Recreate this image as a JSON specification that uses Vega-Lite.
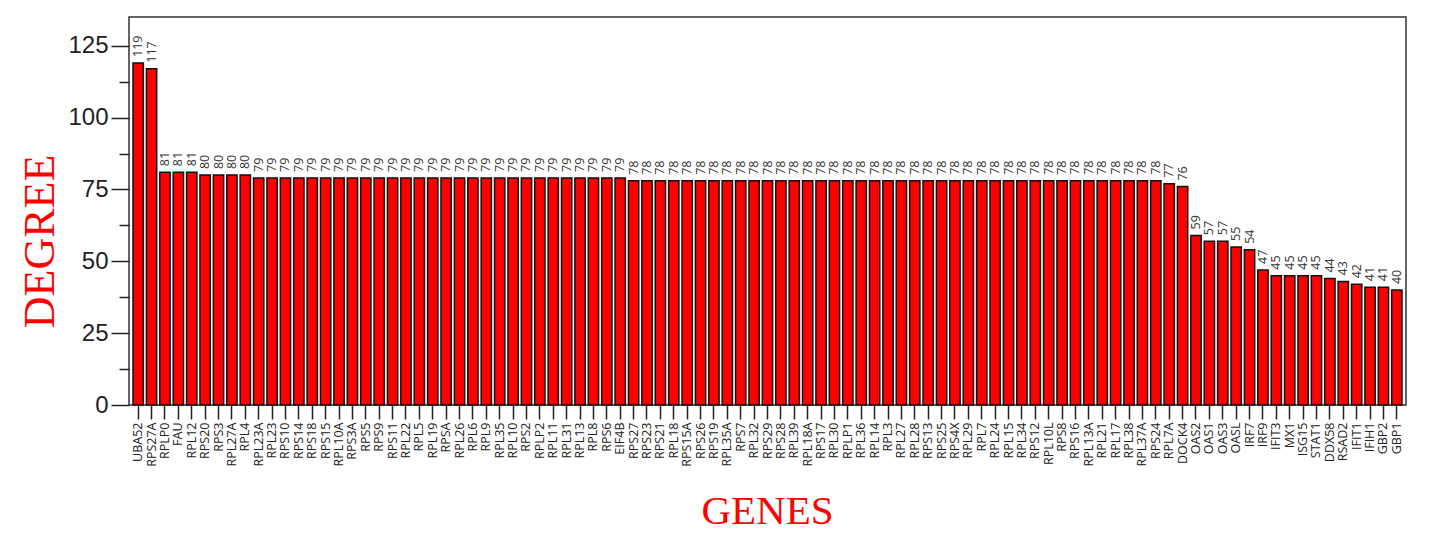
{
  "$schema": "https://vega.github.io/schema/vega-lite/v6.json",
  "autosize": {"type": "none"},
  "width": 1277,
  "height": 388,
  "padding": {"left": 129, "top": 17, "right": 27, "bottom": 151},
  "background": "white",
  "config": {
    "view": {"stroke": "#333333", "strokeWidth": 1.5},
    "axis": {"domain": false, "grid": false, "tickColor": "#222222", "tickWidth": 1.5, "labelColor": "#222222"}
  },
  "data": {
    "values": [
      {"gene": "UBA52", "degree": 119},
      {"gene": "RPS27A", "degree": 117},
      {"gene": "RPLP0", "degree": 81},
      {"gene": "FAU", "degree": 81},
      {"gene": "RPL12", "degree": 81},
      {"gene": "RPS20", "degree": 80},
      {"gene": "RPS3", "degree": 80},
      {"gene": "RPL27A", "degree": 80},
      {"gene": "RPL4", "degree": 80},
      {"gene": "RPL23A", "degree": 79},
      {"gene": "RPL23", "degree": 79},
      {"gene": "RPS10", "degree": 79},
      {"gene": "RPS14", "degree": 79},
      {"gene": "RPS18", "degree": 79},
      {"gene": "RPS15", "degree": 79},
      {"gene": "RPL10A", "degree": 79},
      {"gene": "RPS3A", "degree": 79},
      {"gene": "RPS5", "degree": 79},
      {"gene": "RPS9", "degree": 79},
      {"gene": "RPS11", "degree": 79},
      {"gene": "RPL22", "degree": 79},
      {"gene": "RPL5", "degree": 79},
      {"gene": "RPL19", "degree": 79},
      {"gene": "RPSA", "degree": 79},
      {"gene": "RPL26", "degree": 79},
      {"gene": "RPL6", "degree": 79},
      {"gene": "RPL9", "degree": 79},
      {"gene": "RPL35", "degree": 79},
      {"gene": "RPL10", "degree": 79},
      {"gene": "RPS2", "degree": 79},
      {"gene": "RPLP2", "degree": 79},
      {"gene": "RPL11", "degree": 79},
      {"gene": "RPL31", "degree": 79},
      {"gene": "RPL13", "degree": 79},
      {"gene": "RPL8", "degree": 79},
      {"gene": "RPS6", "degree": 79},
      {"gene": "EIF4B", "degree": 79},
      {"gene": "RPS27", "degree": 78},
      {"gene": "RPS23", "degree": 78},
      {"gene": "RPS21", "degree": 78},
      {"gene": "RPL18", "degree": 78},
      {"gene": "RPS15A", "degree": 78},
      {"gene": "RPS26", "degree": 78},
      {"gene": "RPS19", "degree": 78},
      {"gene": "RPL35A", "degree": 78},
      {"gene": "RPS7", "degree": 78},
      {"gene": "RPL32", "degree": 78},
      {"gene": "RPS29", "degree": 78},
      {"gene": "RPS28", "degree": 78},
      {"gene": "RPL39", "degree": 78},
      {"gene": "RPL18A", "degree": 78},
      {"gene": "RPS17", "degree": 78},
      {"gene": "RPL30", "degree": 78},
      {"gene": "RPLP1", "degree": 78},
      {"gene": "RPL36", "degree": 78},
      {"gene": "RPL14", "degree": 78},
      {"gene": "RPL3", "degree": 78},
      {"gene": "RPL27", "degree": 78},
      {"gene": "RPL28", "degree": 78},
      {"gene": "RPS13", "degree": 78},
      {"gene": "RPS25", "degree": 78},
      {"gene": "RPS4X", "degree": 78},
      {"gene": "RPL29", "degree": 78},
      {"gene": "RPL7", "degree": 78},
      {"gene": "RPL24", "degree": 78},
      {"gene": "RPL15", "degree": 78},
      {"gene": "RPL34", "degree": 78},
      {"gene": "RPS12", "degree": 78},
      {"gene": "RPL10L", "degree": 78},
      {"gene": "RPS8", "degree": 78},
      {"gene": "RPS16", "degree": 78},
      {"gene": "RPL13A", "degree": 78},
      {"gene": "RPL21", "degree": 78},
      {"gene": "RPL17", "degree": 78},
      {"gene": "RPL38", "degree": 78},
      {"gene": "RPL37A", "degree": 78},
      {"gene": "RPS24", "degree": 78},
      {"gene": "RPL7A", "degree": 77},
      {"gene": "DOCK4", "degree": 76},
      {"gene": "OAS2", "degree": 59},
      {"gene": "OAS1", "degree": 57},
      {"gene": "OAS3", "degree": 57},
      {"gene": "OASL", "degree": 55},
      {"gene": "IRF7", "degree": 54},
      {"gene": "IRF9", "degree": 47},
      {"gene": "IFIT3", "degree": 45},
      {"gene": "MX1", "degree": 45},
      {"gene": "ISG15", "degree": 45},
      {"gene": "STAT1", "degree": 45},
      {"gene": "DDX58", "degree": 44},
      {"gene": "RSAD2", "degree": 43},
      {"gene": "IFIT1", "degree": 42},
      {"gene": "IFIH1", "degree": 41},
      {"gene": "GBP2", "degree": 41},
      {"gene": "GBP1", "degree": 40}
    ]
  },
  "encoding": {
    "x": {
      "field": "gene",
      "type": "nominal",
      "sort": null,
      "scale": {"paddingInner": 0.23, "paddingOuter": 0.3},
      "axis": {
        "title": "GENES",
        "labelAngle": -90,
        "labelAlign": "right",
        "labelBaseline": "middle",
        "labelFont": "Open Sans",
        "labelFontSize": 12.5,
        "labelPadding": 3,
        "tickSize": 14,
        "titleFont": "Liberation Serif",
        "titleFontSize": 41,
        "titleFontWeight": "normal",
        "titleColor": "#ff0000",
        "titleBaseline": "alphabetic",
        "titleAlign": "center",
        "titleX": 638,
        "titleY": 118
      }
    },
    "y": {
      "field": "degree",
      "type": "quantitative",
      "scale": {"domain": [0, 135], "nice": false},
      "axis": {
        "title": "DEGREE",
        "values": [0, 12.5, 25, 37.5, 50, 62.5, 75, 87.5, 100, 112.5, 125],
        "labelExpr": "datum.value % 25 === 0 ? datum.label : ''",
        "tickSize": {"condition": {"test": "datum.value % 25 !== 0", "value": 10}, "value": 18},
        "labelFont": "Liberation Sans",
        "labelFontSize": 24,
        "labelPadding": 3,
        "titleFont": "Liberation Serif",
        "titleFontSize": 44,
        "titleFontWeight": "normal",
        "titleColor": "#ff0000",
        "titleAngle": 270,
        "titleBaseline": "alphabetic",
        "titleAlign": "center",
        "titleX": -76,
        "titleY": 224
      }
    }
  },
  "layer": [
    {
      "mark": {"type": "bar", "fill": "#ff0000", "stroke": "#111111", "strokeWidth": 1.5}
    },
    {
      "mark": {"type": "text", "angle": 270, "align": "left", "baseline": "middle", "dx": 6, "font": "Open Sans", "fontSize": 12.5, "color": "#333333"},
      "encoding": {"text": {"field": "degree", "type": "quantitative"}}
    }
  ]
}
